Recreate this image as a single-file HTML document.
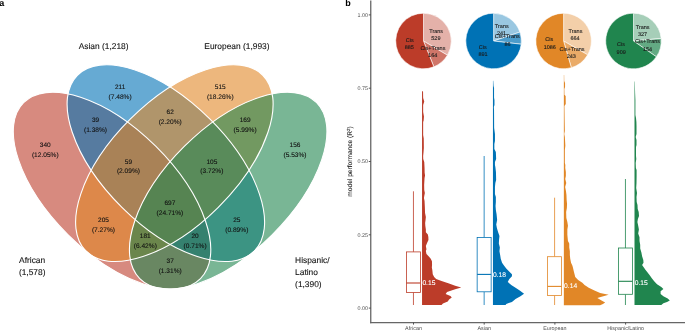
<!DOCTYPE html>
<html><head><meta charset="utf-8"><style>
html,body{margin:0;padding:0;background:#fff;}
body{width:685px;height:331px;overflow:hidden;}
svg{display:block;}
text{font-family:"Liberation Sans",sans-serif;}
svg{-webkit-font-smoothing:antialiased;will-change:transform;text-rendering:geometricPrecision;}
</style></head><body>
<svg width="685" height="331" viewBox="0 0 685 331">
<rect width="685" height="331" fill="#fff"/>
<ellipse cx="112.03" cy="190.62" rx="124.71" ry="62.31" transform="rotate(44.83 112.03 190.62)" fill="#BC3C29" fill-opacity="0.6"/>
<ellipse cx="165.85" cy="163.16" rx="124.71" ry="62.31" transform="rotate(44.83 165.85 163.16)" fill="#0072B5" fill-opacity="0.6"/>
<ellipse cx="174.36" cy="163.16" rx="124.71" ry="62.31" transform="rotate(-44.83 174.36 163.16)" fill="#E18727" fill-opacity="0.6"/>
<ellipse cx="228.18" cy="190.62" rx="124.71" ry="62.31" transform="rotate(-44.83 228.18 190.62)" fill="#20854E" fill-opacity="0.6"/>
<ellipse cx="112.03" cy="190.62" rx="124.71" ry="62.31" transform="rotate(44.83 112.03 190.62)" fill="none" stroke="#fff" stroke-width="1.1"/>
<ellipse cx="165.85" cy="163.16" rx="124.71" ry="62.31" transform="rotate(44.83 165.85 163.16)" fill="none" stroke="#fff" stroke-width="1.1"/>
<ellipse cx="174.36" cy="163.16" rx="124.71" ry="62.31" transform="rotate(-44.83 174.36 163.16)" fill="none" stroke="#fff" stroke-width="1.1"/>
<ellipse cx="228.18" cy="190.62" rx="124.71" ry="62.31" transform="rotate(-44.83 228.18 190.62)" fill="none" stroke="#fff" stroke-width="1.1"/>
<text x="45.3" y="147.1" font-size="6.5" text-anchor="middle" fill="#111" stroke="#111" stroke-width="0.1">340</text>
<text x="45.3" y="156.7" font-size="6.6" text-anchor="middle" fill="#111" stroke="#111" stroke-width="0.1">(12.05%)</text>
<text x="120.1" y="88.65" font-size="6.5" text-anchor="middle" fill="#111" stroke="#111" stroke-width="0.1">211</text>
<text x="120.1" y="98.8" font-size="6.6" text-anchor="middle" fill="#111" stroke="#111" stroke-width="0.1">(7.48%)</text>
<text x="220.3" y="88.65" font-size="6.5" text-anchor="middle" fill="#111" stroke="#111" stroke-width="0.1">515</text>
<text x="220.3" y="98.8" font-size="6.6" text-anchor="middle" fill="#111" stroke="#111" stroke-width="0.1">(18.26%)</text>
<text x="295" y="147.1" font-size="6.5" text-anchor="middle" fill="#111" stroke="#111" stroke-width="0.1">156</text>
<text x="295" y="156.7" font-size="6.6" text-anchor="middle" fill="#111" stroke="#111" stroke-width="0.1">(5.53%)</text>
<text x="95.5" y="122.0" font-size="6.5" text-anchor="middle" fill="#111" stroke="#111" stroke-width="0.1">39</text>
<text x="95.5" y="131.9" font-size="6.6" text-anchor="middle" fill="#111" stroke="#111" stroke-width="0.1">(1.38%)</text>
<text x="170.2" y="113.7" font-size="6.5" text-anchor="middle" fill="#111" stroke="#111" stroke-width="0.1">62</text>
<text x="170.2" y="123.7" font-size="6.6" text-anchor="middle" fill="#111" stroke="#111" stroke-width="0.1">(2.20%)</text>
<text x="245.1" y="122.0" font-size="6.5" text-anchor="middle" fill="#111" stroke="#111" stroke-width="0.1">169</text>
<text x="245.1" y="131.9" font-size="6.6" text-anchor="middle" fill="#111" stroke="#111" stroke-width="0.1">(5.99%)</text>
<text x="128.45" y="163.7" font-size="6.5" text-anchor="middle" fill="#111" stroke="#111" stroke-width="0.1">59</text>
<text x="128.45" y="173.2" font-size="6.6" text-anchor="middle" fill="#111" stroke="#111" stroke-width="0.1">(2.09%)</text>
<text x="211.9" y="163.7" font-size="6.5" text-anchor="middle" fill="#111" stroke="#111" stroke-width="0.1">105</text>
<text x="211.9" y="173.2" font-size="6.6" text-anchor="middle" fill="#111" stroke="#111" stroke-width="0.1">(3.72%)</text>
<text x="103.45" y="222.1" font-size="6.5" text-anchor="middle" fill="#111" stroke="#111" stroke-width="0.1">205</text>
<text x="103.45" y="231.7" font-size="6.6" text-anchor="middle" fill="#111" stroke="#111" stroke-width="0.1">(7.27%)</text>
<text x="236.8" y="222.1" font-size="6.5" text-anchor="middle" fill="#111" stroke="#111" stroke-width="0.1">25</text>
<text x="236.8" y="231.7" font-size="6.6" text-anchor="middle" fill="#111" stroke="#111" stroke-width="0.1">(0.89%)</text>
<text x="169.9" y="205.1" font-size="6.5" text-anchor="middle" fill="#111" stroke="#111" stroke-width="0.1">697</text>
<text x="169.9" y="215.1" font-size="6.6" text-anchor="middle" fill="#111" stroke="#111" stroke-width="0.1">(24.71%)</text>
<text x="145.3" y="238.4" font-size="6.5" text-anchor="middle" fill="#111" stroke="#111" stroke-width="0.1">181</text>
<text x="145.3" y="248.1" font-size="6.6" text-anchor="middle" fill="#111" stroke="#111" stroke-width="0.1">(6.42%)</text>
<text x="195.1" y="238.4" font-size="6.5" text-anchor="middle" fill="#111" stroke="#111" stroke-width="0.1">20</text>
<text x="195.1" y="248.1" font-size="6.6" text-anchor="middle" fill="#111" stroke="#111" stroke-width="0.1">(0.71%)</text>
<text x="170.2" y="263.1" font-size="6.5" text-anchor="middle" fill="#111" stroke="#111" stroke-width="0.1">37</text>
<text x="170.2" y="273.1" font-size="6.6" text-anchor="middle" fill="#111" stroke="#111" stroke-width="0.1">(1.31%)</text>
<text x="103.6" y="49.2" font-size="8.4" text-anchor="middle" fill="#111" stroke="#111" stroke-width="0.1">Asian (1,218)</text>
<text x="236.9" y="49.4" font-size="8.4" text-anchor="middle" fill="#111" stroke="#111" stroke-width="0.1">European (1,993)</text>
<text x="19.1" y="263.1" font-size="8.4" fill="#111" stroke="#111" stroke-width="0.1">African</text>
<text x="18.9" y="274.7" font-size="8.4" fill="#111" stroke="#111" stroke-width="0.1">(1,578)</text>
<text x="295.1" y="263.3" font-size="8.4" fill="#111" stroke="#111" stroke-width="0.1">Hispanic/</text>
<text x="295.1" y="275.2" font-size="8.4" fill="#111" stroke="#111" stroke-width="0.1">Latino</text>
<text x="295.1" y="287" font-size="8.4" fill="#111" stroke="#111" stroke-width="0.1">(1,390)</text>
<text x="-0.8" y="5.9" font-size="9" font-weight="bold" fill="#000">a</text>
<text x="345.3" y="5.9" font-size="9" font-weight="bold" fill="#000">b</text>
<line x1="370.75" y1="0.5" x2="370.75" y2="323.25" stroke="#666" stroke-width="1.3"/>
<line x1="370.1" y1="322.6" x2="685" y2="322.6" stroke="#666" stroke-width="1.3"/>
<line x1="368.75" y1="14.90" x2="370.75" y2="14.90" stroke="#444" stroke-width="0.9"/>
<text x="367.9" y="16.8" font-size="5.4" text-anchor="end" fill="#4d4d4d">1.00</text>
<line x1="368.75" y1="88.20" x2="370.75" y2="88.20" stroke="#444" stroke-width="0.9"/>
<text x="367.9" y="90.1" font-size="5.4" text-anchor="end" fill="#4d4d4d">0.75</text>
<line x1="368.75" y1="161.50" x2="370.75" y2="161.50" stroke="#444" stroke-width="0.9"/>
<text x="367.9" y="163.4" font-size="5.4" text-anchor="end" fill="#4d4d4d">0.50</text>
<line x1="368.75" y1="234.80" x2="370.75" y2="234.80" stroke="#444" stroke-width="0.9"/>
<text x="367.9" y="236.7" font-size="5.4" text-anchor="end" fill="#4d4d4d">0.25</text>
<line x1="368.75" y1="308.10" x2="370.75" y2="308.10" stroke="#444" stroke-width="0.9"/>
<text x="367.9" y="310.0" font-size="5.4" text-anchor="end" fill="#4d4d4d">0.00</text>
<line x1="413.5" y1="322.6" x2="413.5" y2="324.6" stroke="#444" stroke-width="0.9"/>
<text x="413.5" y="329.6" font-size="5.4" text-anchor="middle" fill="#4d4d4d">African</text>
<line x1="484.2" y1="322.6" x2="484.2" y2="324.6" stroke="#444" stroke-width="0.9"/>
<text x="484.2" y="329.6" font-size="5.4" text-anchor="middle" fill="#4d4d4d">Asian</text>
<line x1="554.9" y1="322.6" x2="554.9" y2="324.6" stroke="#444" stroke-width="0.9"/>
<text x="554.9" y="329.6" font-size="5.4" text-anchor="middle" fill="#4d4d4d">European</text>
<line x1="625.6" y1="322.6" x2="625.6" y2="324.6" stroke="#444" stroke-width="0.9"/>
<text x="625.6" y="329.6" font-size="5.4" text-anchor="middle" fill="#4d4d4d">Hispanic/Latino</text>
<text transform="translate(352.3 161.5) rotate(-90)" font-size="6.6" text-anchor="middle" fill="#222" stroke="#222" stroke-width="0.1">model performance (R<tspan font-size="4.4" dy="-2.6">2</tspan><tspan dy="2.6">)</tspan></text>
<path d="M423.5,41.0 L423.50,13.20 A27.8,27.8 0 0 1 447.41,55.19 Z" fill="#e4b1a9" stroke="#fff" stroke-width="0.6" stroke-linejoin="round"/>
<path d="M423.5,41.0 L447.41,55.19 A27.8,27.8 0 0 1 433.87,66.79 Z" fill="#d07669" stroke="#fff" stroke-width="0.6" stroke-linejoin="round"/>
<path d="M423.5,41.0 L433.87,66.79 A27.8,27.8 0 1 1 423.50,13.20 Z" fill="#BC3C29" stroke="#fff" stroke-width="0.6" stroke-linejoin="round"/>
<path d="M493.6,41.0 L493.60,13.20 A27.8,27.8 0 0 1 519.92,32.06 Z" fill="#99c7e1" stroke="#fff" stroke-width="0.6" stroke-linejoin="round"/>
<path d="M493.6,41.0 L519.92,32.06 A27.8,27.8 0 0 1 521.21,44.22 Z" fill="#4c9ccb" stroke="#fff" stroke-width="0.6" stroke-linejoin="round"/>
<path d="M493.6,41.0 L521.21,44.22 A27.8,27.8 0 1 1 493.60,13.20 Z" fill="#0072B5" stroke="#fff" stroke-width="0.6" stroke-linejoin="round"/>
<path d="M563.6,41.0 L563.60,13.20 A27.8,27.8 0 0 1 587.69,54.87 Z" fill="#f3cfa9" stroke="#fff" stroke-width="0.6" stroke-linejoin="round"/>
<path d="M563.6,41.0 L587.69,54.87 A27.8,27.8 0 0 1 571.34,67.70 Z" fill="#eaab68" stroke="#fff" stroke-width="0.6" stroke-linejoin="round"/>
<path d="M563.6,41.0 L571.34,67.70 A27.8,27.8 0 1 1 563.60,13.20 Z" fill="#E18727" stroke="#fff" stroke-width="0.6" stroke-linejoin="round"/>
<path d="M633.5,41.0 L633.50,13.20 A27.8,27.8 0 0 1 661.18,38.43 Z" fill="#a6ceb8" stroke="#fff" stroke-width="0.6" stroke-linejoin="round"/>
<path d="M633.5,41.0 L661.18,38.43 A27.8,27.8 0 0 1 656.39,56.78 Z" fill="#63aa83" stroke="#fff" stroke-width="0.6" stroke-linejoin="round"/>
<path d="M633.5,41.0 L656.39,56.78 A27.8,27.8 0 1 1 633.50,13.20 Z" fill="#20854E" stroke="#fff" stroke-width="0.6" stroke-linejoin="round"/>
<text x="436.2" y="33.1" font-size="5.5" text-anchor="middle" fill="#1a1a1a" stroke="#1a1a1a" stroke-width="0.1">Trans</text>
<text x="435.9" y="40.2" font-size="5.5" text-anchor="middle" fill="#1a1a1a" stroke="#1a1a1a" stroke-width="0.1">529</text>
<text x="409.8" y="41.9" font-size="5.5" text-anchor="middle" fill="#1a1a1a" stroke="#1a1a1a" stroke-width="0.1">Cis</text>
<text x="409.3" y="49.1" font-size="5.5" text-anchor="middle" fill="#1a1a1a" stroke="#1a1a1a" stroke-width="0.1">885</text>
<text x="432.9" y="50.1" font-size="5.5" text-anchor="middle" fill="#1a1a1a" stroke="#1a1a1a" stroke-width="0.1">Cis+Trans</text>
<text x="432.7" y="57.3" font-size="5.5" text-anchor="middle" fill="#1a1a1a" stroke="#1a1a1a" stroke-width="0.1">164</text>
<text x="501.8" y="28.2" font-size="5.5" text-anchor="middle" fill="#1a1a1a" stroke="#1a1a1a" stroke-width="0.1">Trans</text>
<text x="501.5" y="35.3" font-size="5.5" text-anchor="middle" fill="#1a1a1a" stroke="#1a1a1a" stroke-width="0.1">241</text>
<text x="507.3" y="38.3" font-size="5.5" text-anchor="middle" fill="#1a1a1a" stroke="#1a1a1a" stroke-width="0.1">Cis+Trans</text>
<text x="507.6" y="45.5" font-size="5.5" text-anchor="middle" fill="#1a1a1a" stroke="#1a1a1a" stroke-width="0.1">86</text>
<text x="482.8" y="48.5" font-size="5.5" text-anchor="middle" fill="#1a1a1a" stroke="#1a1a1a" stroke-width="0.1">Cis</text>
<text x="483" y="55.5" font-size="5.5" text-anchor="middle" fill="#1a1a1a" stroke="#1a1a1a" stroke-width="0.1">891</text>
<text x="575.5" y="32.7" font-size="5.5" text-anchor="middle" fill="#1a1a1a" stroke="#1a1a1a" stroke-width="0.1">Trans</text>
<text x="575" y="40.4" font-size="5.5" text-anchor="middle" fill="#1a1a1a" stroke="#1a1a1a" stroke-width="0.1">664</text>
<text x="549.3" y="41.4" font-size="5.5" text-anchor="middle" fill="#1a1a1a" stroke="#1a1a1a" stroke-width="0.1">Cis</text>
<text x="549.8" y="48.9" font-size="5.5" text-anchor="middle" fill="#1a1a1a" stroke="#1a1a1a" stroke-width="0.1">1086</text>
<text x="572.1" y="50.9" font-size="5.5" text-anchor="middle" fill="#1a1a1a" stroke="#1a1a1a" stroke-width="0.1">Cis+Trans</text>
<text x="571.3" y="58.2" font-size="5.5" text-anchor="middle" fill="#1a1a1a" stroke="#1a1a1a" stroke-width="0.1">243</text>
<text x="642.7" y="29.2" font-size="5.5" text-anchor="middle" fill="#1a1a1a" stroke="#1a1a1a" stroke-width="0.1">Trans</text>
<text x="642.5" y="36.3" font-size="5.5" text-anchor="middle" fill="#1a1a1a" stroke="#1a1a1a" stroke-width="0.1">327</text>
<text x="647.5" y="42.8" font-size="5.5" text-anchor="middle" fill="#1a1a1a" stroke="#1a1a1a" stroke-width="0.1">Cis+Trans</text>
<text x="647.5" y="50.5" font-size="5.5" text-anchor="middle" fill="#1a1a1a" stroke="#1a1a1a" stroke-width="0.1">154</text>
<text x="621" y="46.4" font-size="5.5" text-anchor="middle" fill="#1a1a1a" stroke="#1a1a1a" stroke-width="0.1">Cis</text>
<text x="621.2" y="53.5" font-size="5.5" text-anchor="middle" fill="#1a1a1a" stroke="#1a1a1a" stroke-width="0.1">909</text>
<path d="M422.05,90.90 L422.35,90.90 L423.05,92.00 L423.15,98.00 L424.25,101.50 L423.15,105.00 L423.15,112.00 L423.95,116.50 L423.65,120.50 L423.15,122.00 L423.15,135.00 L423.75,138.50 L423.85,148.00 L423.55,152.00 L423.15,156.00 L423.25,159.00 L424.25,162.00 L424.55,168.00 L424.65,172.80 L425.05,175.50 L424.55,178.00 L424.15,185.00 L424.25,190.00 L424.85,193.00 L424.35,195.50 L423.95,198.00 L424.55,201.00 L424.85,207.00 L425.05,213.00 L425.85,217.00 L425.55,220.00 L425.15,223.00 L425.35,226.00 L425.85,229.50 L425.85,232.20 L427.85,234.50 L428.35,237.10 L428.45,240.10 L427.05,243.10 L425.85,246.10 L426.45,249.20 L425.85,251.00 L426.45,254.00 L428.85,256.40 L430.75,258.80 L431.95,261.20 L432.05,265.00 L431.85,267.40 L432.35,270.20 L432.75,274.20 L434.15,276.90 L436.15,279.00 L441.55,281.00 L449.75,283.70 L455.15,285.80 L461.25,287.50 L455.15,289.20 L447.05,291.90 L445.65,293.90 L450.45,296.00 L451.75,297.60 L449.05,299.40 L447.75,301.40 L442.95,303.40 L441.55,305.00 L422.05,305.00Z" fill="#BC3C29"/>
<path d="M492.95,80.80 L493.25,80.80 L493.55,86.00 L494.05,88.00 L494.05,97.70 L494.45,100.00 L494.45,105.00 L493.85,107.00 L494.05,110.00 L494.15,128.00 L494.95,134.00 L494.95,141.00 L494.35,144.00 L494.35,149.00 L495.85,152.00 L496.15,159.00 L494.95,162.00 L494.95,165.00 L495.35,167.00 L495.95,172.00 L496.15,180.00 L495.35,183.00 L494.95,187.00 L494.95,194.00 L495.85,197.00 L495.85,202.00 L495.55,206.00 L495.85,210.00 L496.55,214.00 L497.15,220.00 L496.25,224.50 L496.95,228.30 L498.15,232.20 L499.45,236.00 L499.05,239.80 L498.85,243.60 L499.85,247.40 L499.45,251.20 L500.15,255.00 L500.75,258.80 L502.05,262.80 L504.15,265.70 L506.25,268.50 L509.15,271.40 L511.95,274.20 L511.95,276.30 L509.15,279.20 L507.75,282.00 L511.25,284.90 L515.55,287.70 L519.75,290.50 L524.05,293.80 L520.45,296.20 L515.55,299.10 L511.95,301.90 L506.25,304.00 L505.55,305.10 L492.95,305.10Z" fill="#0072B5"/>
<path d="M563.85,75.00 L564.15,75.00 L564.25,81.00 L565.05,83.00 L565.05,87.00 L564.35,89.00 L564.45,94.80 L565.65,96.00 L565.75,104.00 L564.45,106.00 L564.65,120.00 L564.85,131.00 L564.25,134.00 L564.85,137.00 L565.35,145.80 L564.85,150.00 L564.85,163.00 L565.35,165.00 L565.25,168.00 L565.85,172.00 L565.85,176.00 L565.25,179.00 L566.25,183.00 L565.15,187.00 L565.95,191.00 L566.45,195.00 L566.65,200.00 L567.05,204.00 L566.85,208.00 L566.15,212.00 L566.35,218.00 L567.35,222.00 L567.95,225.80 L567.35,229.60 L567.35,234.70 L567.95,241.00 L569.25,243.60 L569.25,247.40 L569.85,251.20 L569.85,255.00 L570.25,258.80 L571.05,262.80 L572.45,265.70 L573.15,268.50 L573.85,271.40 L574.55,274.20 L575.25,277.10 L578.15,279.90 L582.35,282.70 L584.55,284.90 L588.75,287.70 L594.45,290.60 L600.15,293.00 L608.65,294.80 L601.55,296.70 L597.35,298.10 L601.55,300.50 L605.15,302.60 L602.95,304.10 L600.15,305.20 L563.85,305.20Z" fill="#E18727"/>
<path d="M634.50,81.50 L634.80,81.50 L635.10,93.00 L635.40,100.00 L635.40,115.00 L636.00,118.00 L636.40,122.00 L636.50,126.00 L636.50,134.00 L635.70,137.00 L636.50,140.00 L636.50,145.00 L636.00,147.00 L636.00,156.00 L636.30,159.00 L635.70,163.00 L635.90,168.00 L636.60,170.00 L636.60,176.00 L636.50,183.00 L636.20,188.00 L637.00,193.00 L636.50,197.00 L636.70,202.00 L637.50,205.00 L637.70,209.00 L638.70,212.00 L639.00,216.00 L637.90,219.00 L637.40,222.00 L638.20,225.80 L638.90,229.60 L638.20,233.40 L639.50,237.20 L639.50,241.00 L640.20,244.80 L640.20,248.60 L641.40,252.50 L642.10,256.30 L643.30,260.10 L643.50,262.80 L642.10,265.00 L643.50,267.10 L645.60,269.90 L647.80,272.80 L649.90,275.60 L652.00,278.50 L654.20,281.30 L657.00,284.20 L661.30,287.00 L663.40,289.10 L660.60,291.30 L660.60,294.10 L663.40,296.20 L667.70,298.40 L669.80,300.50 L667.00,301.90 L663.40,303.30 L661.30,305.00 L634.50,305.00Z" fill="#20854E"/>
<line x1="413.45" y1="191.3" x2="413.45" y2="251.9" stroke="#BC3C29" stroke-width="0.8"/>
<line x1="413.45" y1="292.4" x2="413.45" y2="305.0" stroke="#BC3C29" stroke-width="0.8"/>
<rect x="406.45" y="251.9" width="14.0" height="40.49999999999997" fill="#fff" stroke="#BC3C29" stroke-width="0.8"/>
<line x1="406.45" y1="283.0" x2="420.45" y2="283.0" stroke="#BC3C29" stroke-width="1.1"/>
<line x1="484.15" y1="156" x2="484.15" y2="237.5" stroke="#0072B5" stroke-width="0.8"/>
<line x1="484.15" y1="291.8" x2="484.15" y2="305.0" stroke="#0072B5" stroke-width="0.8"/>
<rect x="477.15" y="237.5" width="14.0" height="54.30000000000001" fill="#fff" stroke="#0072B5" stroke-width="0.8"/>
<line x1="477.15" y1="274.4" x2="491.15" y2="274.4" stroke="#0072B5" stroke-width="1.1"/>
<line x1="554.6" y1="197.7" x2="554.6" y2="256.7" stroke="#E18727" stroke-width="0.8"/>
<line x1="554.6" y1="295.5" x2="554.6" y2="305.0" stroke="#E18727" stroke-width="0.8"/>
<rect x="547.6" y="256.7" width="14.0" height="38.80000000000001" fill="#fff" stroke="#E18727" stroke-width="0.8"/>
<line x1="547.6" y1="286.4" x2="561.6" y2="286.4" stroke="#E18727" stroke-width="1.1"/>
<line x1="625.45" y1="179" x2="625.45" y2="248.0" stroke="#20854E" stroke-width="0.8"/>
<line x1="625.45" y1="294.3" x2="625.45" y2="305.0" stroke="#20854E" stroke-width="0.8"/>
<rect x="618.45" y="248.0" width="14.0" height="46.30000000000001" fill="#fff" stroke="#20854E" stroke-width="0.8"/>
<line x1="618.45" y1="281.3" x2="632.45" y2="281.3" stroke="#20854E" stroke-width="1.1"/>
<text x="422.4" y="285.1" font-size="6.7" fill="#fff" stroke="#fff" stroke-width="0.1">0.15</text>
<text x="492.9" y="276.8" font-size="6.7" fill="#fff" stroke="#fff" stroke-width="0.1">0.18</text>
<text x="564.1" y="288.2" font-size="6.7" fill="#fff" stroke="#fff" stroke-width="0.1">0.14</text>
<text x="634.8" y="284.5" font-size="6.7" fill="#fff" stroke="#fff" stroke-width="0.1">0.15</text>
</svg>
</body></html>
